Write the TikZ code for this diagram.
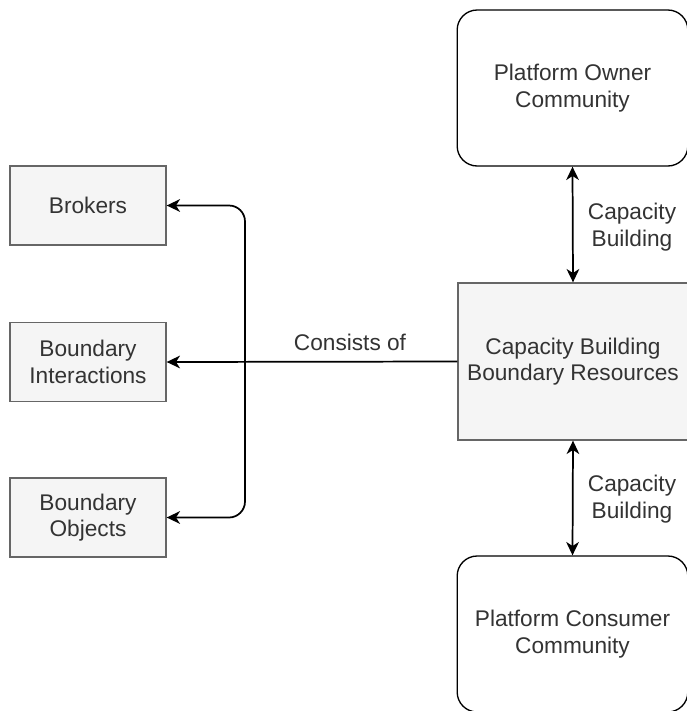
\documentclass[tikz,border=0pt]{standalone}
\usepackage{fontspec}
\setmainfont{Liberation Sans}
\usetikzlibrary{arrows.meta}
\definecolor{boxfill}{HTML}{F5F5F5}
\definecolor{boxline}{HTML}{666666}
\definecolor{boxtext}{HTML}{333333}
\begin{document}
\begin{tikzpicture}[x=0.75pt,y=-0.75pt,
  every node/.style={font=\fontsize{17}{20}\selectfont, align=center, text=boxtext},
  graybox/.style={draw=boxline, line width=1pt, fill=boxfill,
    minimum width=117pt, minimum height=59.25pt, inner sep=0pt},
  hubbox/.style={graybox, minimum width=172.5pt, minimum height=117.75pt},
  community/.style={draw=black, line width=1pt, fill=white, rounded corners=15pt,
    minimum width=173pt, minimum height=117pt, inner sep=0pt},
  tip/.tip={Stealth[length=10pt, width=9.5pt, inset=3pt]},
  link/.style={line width=1.3pt, -tip},
  twoway/.style={line width=1.3pt, tip-tip},
  lbl/.style={inner sep=0pt}
]
\useasboundingbox (0,0) rectangle (686,711);

% left column
\node[graybox] (brokers) at (88,205.5) {Brokers};
\node[graybox] (interactions) at (88,362) {Boundary\\Interactions};
\node[graybox] (objects) at (88,517.5) {Boundary\\Objects};

% right column
\node[hubbox] (hub) at (573,361.5) {Capacity Building\\Boundary Resources};
\node[community] (owner) at (572.5,88) {Platform Owner\\Community};
\node[community] (consumer) at (572.5,634) {Platform Consumer\\Community};

% branch point on the main connector
\coordinate (split) at (245,362);

\draw[link] (hub.west) -- (interactions.east);
\draw[link, rounded corners=12pt] (split) |- (brokers.east);
\draw[link, rounded corners=12pt] (split) |- (objects.east);
\node[lbl] (consists) at (350,342) {Consists of};

\draw[twoway] (owner.south) -- (hub.north);
\draw[twoway] (hub.south) -- (consumer.north);
\node[lbl] (cbtop) at (632,227) {Capacity\\Building};
\node[lbl] (cbbot) at (632,499) {Capacity\\Building};
\end{tikzpicture}
\end{document}
